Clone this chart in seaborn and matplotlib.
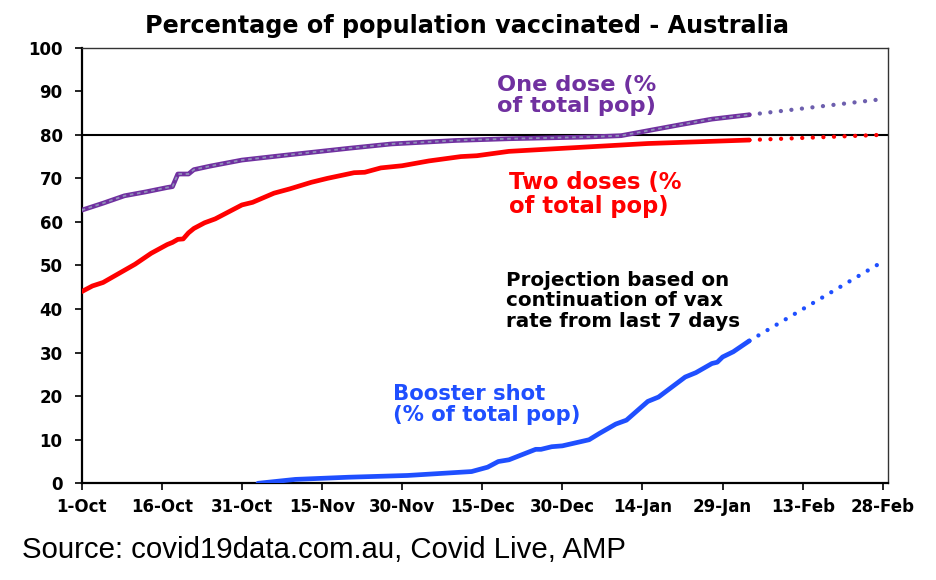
import numpy as np
import pandas as pd
import matplotlib
matplotlib.use("Agg")
import matplotlib.pyplot as plt
import seaborn as sns

# ---------------- data ----------------
one_dose_dates = ["2021-10-01", "2021-10-05", "2021-10-09", "2021-10-13", "2021-10-17",
                  "2021-10-18", "2021-10-19", "2021-10-21", "2021-10-22", "2021-10-25",
                  "2021-10-31", "2021-11-08", "2021-11-20", "2021-11-28", "2021-12-10",
                  "2021-12-20", "2022-01-04", "2022-01-10", "2022-01-21", "2022-01-27",
                  "2022-02-03"]
one_dose_vals = [62.7, 64.3, 66.0, 66.9, 67.9,
                 68.1, 71.0, 71.0, 72.0, 72.8,
                 74.2, 75.3, 76.9, 77.9, 78.7,
                 79.1, 79.5, 79.8, 82.3, 83.6,
                 84.6]

two_dose_dates = ["2021-10-01", "2021-10-03", "2021-10-05", "2021-10-08", "2021-10-11",
                  "2021-10-14", "2021-10-17", "2021-10-18", "2021-10-19", "2021-10-20",
                  "2021-10-21", "2021-10-22", "2021-10-24", "2021-10-26", "2021-10-31",
                  "2021-11-02", "2021-11-06", "2021-11-09", "2021-11-13", "2021-11-16",
                  "2021-11-21", "2021-11-23", "2021-11-26", "2021-11-30", "2021-12-05",
                  "2021-12-11", "2021-12-14", "2021-12-20", "2022-01-02", "2022-01-15",
                  "2022-02-03"]
two_dose_vals = [44.0, 45.3, 46.1, 48.2, 50.3,
                 52.8, 54.8, 55.3, 56.0, 56.1,
                 57.5, 58.5, 59.8, 60.7, 63.9,
                 64.5, 66.6, 67.6, 69.1, 70.0,
                 71.3, 71.4, 72.4, 72.9, 74.0,
                 75.0, 75.2, 76.2, 77.1, 78.0,
                 78.8]

booster_dates = ["2021-11-03", "2021-11-10", "2021-11-20", "2021-12-01", "2021-12-13",
                 "2021-12-16", "2021-12-18", "2021-12-20", "2021-12-25", "2021-12-26",
                 "2021-12-28", "2021-12-30", "2022-01-04", "2022-01-06", "2022-01-09",
                 "2022-01-11", "2022-01-15", "2022-01-17", "2022-01-22", "2022-01-24",
                 "2022-01-27", "2022-01-28", "2022-01-29", "2022-01-31", "2022-02-03"]
booster_vals = [0.0, 0.9, 1.4, 1.8, 2.7,
                3.7, 5.0, 5.4, 7.8, 7.8,
                8.4, 8.6, 10.0, 11.5, 13.6,
                14.5, 18.8, 19.8, 24.4, 25.4,
                27.5, 27.8, 29.0, 30.2, 32.7]

proj_dates = ["2022-02-03", "2022-02-28"]
one_dose_proj = [84.6, 88.2]
two_dose_proj = [78.8, 80.0]
booster_proj = [32.7, 50.9]

tick_dates = ["2021-10-01", "2021-10-16", "2021-10-31", "2021-11-15", "2021-11-30",
              "2021-12-15", "2021-12-30", "2022-01-14", "2022-01-29", "2022-02-13",
              "2022-02-28"]
tick_labels = ["1-Oct", "16-Oct", "31-Oct", "15-Nov", "30-Nov", "15-Dec", "30-Dec",
               "14-Jan", "29-Jan", "13-Feb", "28-Feb"]
y_ticks = [0, 10, 20, 30, 40, 50, 60, 70, 80, 90, 100]
target_level = 80

# ---------------- styling ----------------
sns.set_theme(style="white")
plt.rcParams["font.family"] = ["DejaVu Sans"]

BOLD = ["DejaVu Sans"]
PLAIN = ["Liberation Sans", "DejaVu Sans"]

PURPLE = "#7030A0"
PURPLE_DASH = "#8f8fb8"
PURPLE_PROJ = "#6d5fae"
RED = "#ff0000"
BLUE = "#1f4fff"

fig = plt.figure(figsize=(9.37, 5.80), dpi=100)
ax = fig.add_axes([0.0872, 0.1667, 0.8602, 0.7511])

def df(dates, vals):
    return pd.DataFrame({"date": pd.to_datetime(dates), "val": vals})

# horizontal 80% line
ax.axhline(target_level, color="black", lw=1.5, zorder=1)

# actual series
sns.lineplot(data=df(two_dose_dates, two_dose_vals), x="date", y="val", ax=ax,
             color=RED, lw=3.4, zorder=3)
sns.lineplot(data=df(booster_dates, booster_vals), x="date", y="val", ax=ax,
             color=BLUE, lw=3.4, zorder=3)
sns.lineplot(data=df(one_dose_dates, one_dose_vals), x="date", y="val", ax=ax,
             color=PURPLE, lw=3.4, zorder=4)
sns.lineplot(data=df(one_dose_dates, one_dose_vals), x="date", y="val", ax=ax,
             color=PURPLE_DASH, lw=1.3, zorder=5, linestyle=(0, (2.0, 2.0)))

# projections (dotted)
for vals, col in [(one_dose_proj, PURPLE_PROJ), (two_dose_proj, RED), (booster_proj, BLUE)]:
    sns.lineplot(data=df(proj_dates, vals), x="date", y="val", ax=ax,
                 color=col, lw=3.1, zorder=3)
    l = ax.lines[-1]
    l.set_linestyle((0, (0.01, 2.45)))
    l.set_dash_capstyle("round")

# axes
x0 = pd.Timestamp("2021-10-01")
ax.set_xlim(x0, pd.Timestamp("2022-02-28") + pd.Timedelta(hours=22))
ax.set_ylim(0, 100)
ax.set_xticks(pd.to_datetime(tick_dates))
ax.set_xticklabels(tick_labels)
ax.set_yticks(y_ticks)
ax.set_xlabel("")
ax.set_ylabel("")
for s in ax.spines.values():
    s.set_visible(True)
    s.set_color("black")
ax.spines["left"].set_linewidth(1.6)
ax.spines["bottom"].set_linewidth(1.6)
ax.spines["top"].set_linewidth(1.0)
ax.spines["right"].set_linewidth(1.0)
ax.spines["top"].set_color("#333333")
ax.spines["right"].set_color("#333333")
ax.tick_params(axis="both", direction="out", length=4.8, width=1.2, color="black",
               labelsize=12, bottom=True, left=True)
ax.tick_params(axis="y", pad=9)
ax.tick_params(axis="x", pad=6)
for lab in ax.get_xticklabels() + ax.get_yticklabels():
    lab.set_fontweight("bold")
    lab.set_family(BOLD)
    lab.set_color("black")

# texts
fig.text(0.4985, 0.955, "Percentage of population vaccinated - Australia",
         ha="center", va="center", fontsize=17.2, fontweight="bold", color="black",
         family=BOLD)
fig.text(0.024, 0.051, "Source: covid19data.com.au, Covid Live, AMP",
         ha="left", va="center", fontsize=21.2, color="black", family=PLAIN)

def ann(x, y, s, color, size, ls):
    ax.annotate(s, xy=(x, y), xycoords="figure pixels", ha="left", va="top",
                fontsize=size, fontweight="bold", color=color, linespacing=ls,
                family=BOLD)

ann(497, 580 - 75, "One dose (%\nof total pop)", PURPLE, 16.2, 1.05)
ann(509, 580 - 171, "Two doses (%\nof total pop)", RED, 16.3, 1.04)
ann(506, 580 - 271, "Projection based on\ncontinuation of vax\nrate from last 7 days", "black", 14.3, 1.1)
ann(393, 580 - 384, "Booster shot\n(% of total pop)", BLUE, 15.2, 1.08)

fig.savefig("out.png", dpi=100, facecolor="white")
